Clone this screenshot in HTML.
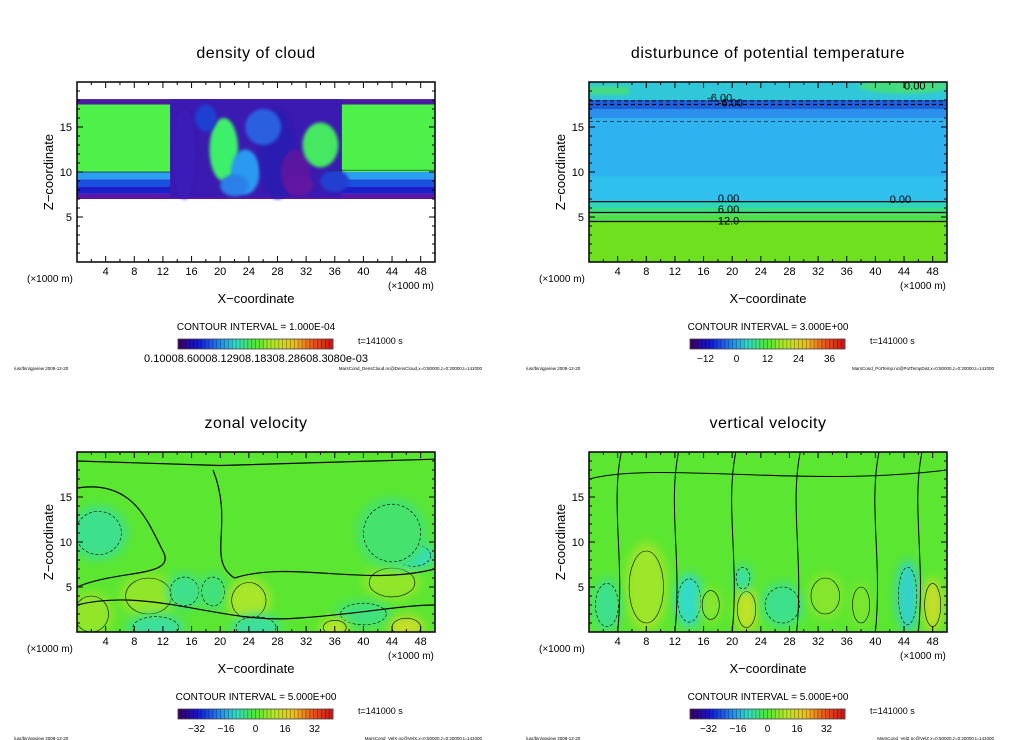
<!DOCTYPE html>
<html><head><meta charset="utf-8"><style>
body{margin:0;background:#fff;width:1024px;height:740px;overflow:hidden}
svg{display:block}
text{font-family:"Liberation Sans",sans-serif;fill:#000}
</style></head><body>
<svg id="fig" width="1024" height="740" xmlns="http://www.w3.org/2000/svg">
<defs>
<filter id="blur4" x="-50%" y="-50%" width="200%" height="200%"><feGaussianBlur stdDeviation="5"/></filter>
<filter id="blur2" x="-50%" y="-50%" width="200%" height="200%"><feGaussianBlur stdDeviation="1.5"/></filter>
</defs>
</svg>
<script>
// ---- shared axis data ----
const xTicks = [4, 8, 12, 16, 20, 24, 28, 32, 36, 40, 44, 48];
const zTicks = [5, 10, 15];
const titles = ["density of cloud", "disturbunce of potential temperature", "zonal velocity", "vertical velocity"];
const intervals = ["1.000E-04", "3.000E+00", "5.000E+00", "5.000E+00"];
const cbLabels0 = ["0.10008.60008.12908.18308.28608.3080e-03"];
const cbLabels1 = ["-12", "0", "12", "24", "36"];
const cbValues1 = [-12, 0, 12, 24, 36];
const cbLabels2 = ["-32", "-16", "0", "16", "32"];
const cbValues2 = [-32, -16, 0, 16, 32];
const footRight = ["MarsCond_DensCloud.nc@DensCloud,x=0:50000,z=0:20000,t=141000",
  "MarsCond_PotTemp.nc@PotTempDist,x=0:50000,z=0:20000,t=141000",
  "MarsCond_VelX.nc@VelX,x=0:50000,z=0:20000,t=141000",
  "MarsCond_VelZ.nc@VelZ,x=0:50000,z=0:20000,t=141000"];
// cloud density layers [zBottom, zTop, colour]
const cloudLayers = [[7.0, 7.6, "#5a16a8"], [7.6, 8.4, "#1a20c8"], [8.4, 9.2, "#1a50e0"], [9.2, 10.0, "#2aa0f0"], [10.0, 17.5, "#4ef04a"], [17.5, 18.1, "#4a1aa0"]];
// cloud gap region blobs [x, z, rx, rz, colour]
const cloudBlobs = [[15, 12, 1.5, 5, "#3a1ab8"], [20.5, 12.5, 2.0, 3.5, "#3ef06a"], [23.5, 10, 2.0, 2.5, "#2a9af0"], [28, 12, 2.5, 5, "#2a1ab0"],
  [30.5, 10, 2, 2.5, "#5a18a0"], [34, 13, 2.5, 2.5, "#44e860"], [26, 15, 2.5, 2, "#2a60e0"], [18, 16, 1.5, 1.5, "#1a40d0"], [31, 8.5, 2, 1.2, "#6018a0"], [22, 8.5, 2, 1.2, "#2a80e8"], [36, 9, 2, 1.2, "#2040d0"]];
// potential temperature layers [zBottom, zTop, colour]
const thetaLayers = [[0, 4.5, "#6ee01e"], [4.5, 5.3, "#4ede4a"], [5.3, 6.0, "#40dc80"], [6.0, 6.7, "#30d4b8"], [6.7, 9.5, "#30c0ee"], [9.5, 16, "#2eb2f0"], [16, 17.0, "#2a90ec"], [17.0, 18.0, "#1e60dc"], [18.0, 20, "#30c8d8"]];
// velocity blobs [x, z, rx, rz, value]
const uBlobs = [[3, 11, 4, 3, -6], [10, 4, 4, 2.5, 6], [15, 4.5, 2.5, 2, -6], [19, 4.5, 2, 2, -5], [24, 3.5, 3, 2.5, 8], [2, 2, 3, 2.5, 6],
  [11, 0.5, 4, 1.5, -7], [25, 0.5, 3.5, 1.5, -7], [44, 5.5, 4, 2, 6], [47, 8.5, 3, 1.5, -10], [40, 2, 4, 1.5, -5], [36, 0.5, 2, 1, 10], [46, 0.5, 2.5, 1.3, 12], [44, 11, 5, 4, -4]];
const wBlobs = [[8, 5, 3, 5, 7], [14, 3.5, 2, 3, -10], [22, 2.5, 1.6, 2.5, 11], [21.5, 6, 1.2, 1.5, -8], [27, 3, 3, 2.5, -6], [2.5, 3, 2, 3, -6],
  [44.5, 4, 1.6, 4, -11], [48, 3, 1.4, 3, 12], [33, 4, 2.5, 2.5, 5], [17, 3, 1.5, 2, 5], [38, 3, 1.5, 2.5, 4]];

const NS = "http://www.w3.org/2000/svg";
const fig = document.getElementById("fig");
function mk(tag, attrs, parent) {
  const e = document.createElementNS(NS, tag);
  for (const k in attrs) e.setAttribute(k, attrs[k]);
  (parent || fig).appendChild(e);
  return e;
}
const cmStops = [[-40, [60, 0, 90]], [-30, [20, 20, 200]], [-20, [30, 120, 240]], [-10, [50, 220, 200]], [0, [80, 230, 50]], [10, [190, 230, 40]], [20, [240, 190, 30]], [30, [230, 80, 30]], [40, [200, 20, 20]]];
function cmap(v) {
  if (v <= -40) v = -40;
  if (v >= 40) v = 40;
  for (let i = 0; i < cmStops.length - 1; i++) {
    const a = cmStops[i], b = cmStops[i + 1];
    if (v >= a[0] && v <= b[0]) {
      const t = (v - a[0]) / (b[0] - a[0]);
      const c = a[1].map((x, j) => Math.round(x + (b[1][j] - x) * t));
      return "rgb(" + c.join(",") + ")";
    }
  }
  return "#000";
}

const panels = [[0, 0], [512, 0], [0, 370], [512, 370]];
panels.forEach((p, pi) => {
  const ox = p[0], oy = p[1];
  const X0 = ox + 77, X1 = ox + 435, Y0 = oy + 262, Y1 = oy + 82;
  const sx = x => X0 + (x / 50) * (X1 - X0);
  const sz = z => Y0 - (z / 20) * (Y0 - Y1);
  const g = mk("g", {});
  
  
  const cid = "clip" + pi;
  const cp = mk("clipPath", { id: cid }, g);
  mk("rect", { x: X0, y: Y1, width: X1 - X0, height: Y0 - Y1 }, cp);
  const field = mk("g", { "clip-path": "url(#" + cid + ")" }, g);
  
  

  if (pi === 0) {
    cloudLayers.forEach(l => {
      const r = mk("rect", { x: X0, y: sz(l[1]), width: X1 - X0, height: sz(l[0]) - sz(l[1]), fill: l[2] }, field);
      
      
    });
    const gap = mk("rect", { x: sx(13), y: sz(18.1), width: sx(37) - sx(13), height: sz(7.2) - sz(18.1), fill: "#3a1ab0" }, field);
    
    
    cloudBlobs.forEach(b => {
      const e = mk("ellipse", { cx: sx(b[0]), cy: sz(b[1]), rx: sx(b[2]) - X0, ry: sz(0) - sz(b[3]), fill: b[4], filter: "url(#blur2)" }, field);
      
      
    });
    mk("line", { x1: X0, x2: sx(13), y1: sz(10), y2: sz(10), stroke: "#224", "stroke-width": 0.7 }, field);
    mk("line", { x1: sx(35), x2: X1, y1: sz(10.2), y2: sz(10.2), stroke: "#224", "stroke-width": 0.7 }, field);
  } else if (pi === 1) {
    thetaLayers.forEach(l => {
      const r = mk("rect", { x: X0, y: sz(l[1]), width: X1 - X0, height: sz(l[0]) - sz(l[1]), fill: l[2] }, field);
      
      
    });
    mk("ellipse", { cx: sx(44), cy: sz(19.5), rx: 45, ry: 7, fill: "#44dc80", filter: "url(#blur2)" }, field);
    mk("rect", { x: X0, y: sz(19.5), width: 40, height: 8, fill: "#44dc80", filter: "url(#blur2)" }, field);
    [4.5, 5.5, 6.7].forEach(c => mk("line", { x1: X0, x2: X1, y1: sz(c), y2: sz(c), stroke: "#000", "stroke-width": 1.2 }, field));
    [[17.5, 1.2], [17.9, 1], [15.6, 0.6]].forEach(c => mk("line", { x1: X0, x2: X1, y1: sz(c[0]), y2: sz(c[0]), stroke: "#000", "stroke-width": c[1], "stroke-dasharray": "4,3" }, field));
    [["0.00", 18, 7.1], ["6.00", 18, 5.9], ["12.0", 18, 4.6], ["0.00", 42, 7.0], ["-6.00", 16.5, 18.3], ["-6.00", 18, 17.7], ["0.00", 44, 19.6]].forEach(t => {
      const tx = mk("text", { x: sx(t[1]), y: sz(t[2]) + 4, "font-size": 11 }, field);
      tx.textContent = t[0];
      
      
    });
  } else {
    const blobs = pi === 2 ? uBlobs : wBlobs;
    mk("rect", { x: X0, y: Y1, width: X1 - X0, height: Y0 - Y1, fill: cmap(1) }, field);
    blobs.forEach(b => {
      const e = mk("ellipse", { cx: sx(b[0]), cy: sz(b[1]), rx: sx(b[2]) - X0, ry: sz(0) - sz(b[3]), fill: cmap(b[4]), filter: "url(#blur4)" }, field);
      
      
      mk("ellipse", { cx: sx(b[0]), cy: sz(b[1]), rx: (sx(b[2]) - X0) * 0.8, ry: (sz(0) - sz(b[3])) * 0.8, fill: "none", stroke: "#000", "stroke-width": 0.6, "stroke-dasharray": b[4] < 0 ? "3,2" : "none" }, field);
    });
    if (pi === 2) {
      mk("path", { d: `M${X0} ${sz(19)} L${sx(20)} ${sz(18.5)} L${X1} ${sz(19.2)}`, fill: "none", stroke: "#000", "stroke-width": 1.2 }, field);
      mk("path", { d: `M${X0} ${sz(16)} C${sx(8)} ${sz(17)} ${sx(10)} ${sz(12)} ${sx(12)} ${sz(9)} S${sx(6)} ${sz(7)} ${X0} ${sz(5)}`, fill: "none", stroke: "#000", "stroke-width": 1.2 }, field);
      mk("path", { d: `M${sx(19)} ${sz(18)} C${sx(22)} ${sz(12)} ${sx(18)} ${sz(8)} ${sx(22)} ${sz(6)}`, fill: "none", stroke: "#000", "stroke-width": 1.2 }, field);
      mk("path", { d: `M${X0} ${sz(3)} C${sx(10)} ${sz(5)} ${sx(20)} ${sz(1)} ${sx(30)} ${sz(1.5)} S${sx(45)} ${sz(3)} ${X1} ${sz(3)}`, fill: "none", stroke: "#000", "stroke-width": 1.2 }, field);
      mk("path", { d: `M${sx(22)} ${sz(6)} C${sx(30)} ${sz(8)} ${sx(40)} ${sz(5)} ${X1} ${sz(7)}`, fill: "none", stroke: "#000", "stroke-width": 1.2 }, field);
    } else {
      [4, 12, 20, 29, 40, 46].forEach(x => mk("path", { d: `M${sx(x)} ${Y0} C${sx(x + 1)} ${sz(8)} ${sx(x - 1)} ${sz(14)} ${sx(x + 0.5)} ${Y1}`, fill: "none", stroke: "#000", "stroke-width": 1 }, field));
      mk("path", { d: `M${X0} ${sz(17)} C${sx(10)} ${sz(19)} ${sx(30)} ${sz(16)} ${X1} ${sz(18)}`, fill: "none", stroke: "#000", "stroke-width": 1 }, field);
    }
  }
  const fr = mk("rect", { x: X0, y: Y1, width: X1 - X0, height: Y0 - Y1, fill: "none", stroke: "#000", "stroke-width": 1.5 }, g);
  
  
  for (let x = 2; x < 50; x += 2) {
    const L = x % 4 === 0 ? 6 : 3;
    mk("line", { x1: sx(x), x2: sx(x), y1: Y0, y2: Y0 - L, stroke: "#000", "stroke-width": 1 }, g);
    mk("line", { x1: sx(x), x2: sx(x), y1: Y1, y2: Y1 + L, stroke: "#000", "stroke-width": 1 }, g);
  }
  for (let z = 1; z < 20; z++) {
    const L = z % 5 === 0 ? 6 : 3;
    mk("line", { x1: X0, x2: X0 + L, y1: sz(z), y2: sz(z), stroke: "#000", "stroke-width": 1 }, g);
    mk("line", { x1: X1, x2: X1 - L, y1: sz(z), y2: sz(z), stroke: "#000", "stroke-width": 1 }, g);
  }
  xTicks.forEach(x => {
    const t = mk("text", { x: sx(x), y: oy + 275, "font-size": 11, "text-anchor": "middle" }, g);
    t.textContent = x;
    
    
  });
  zTicks.forEach(z => {
    const t = mk("text", { x: X0 - 5, y: sz(z) + 4, "font-size": 11, "text-anchor": "end" }, g);
    t.textContent = z;
    
    
  });
  function txt(s, x, y, fs, anchor, name, extra) {
    const t = mk("text", Object.assign({ x: x, y: y, "font-size": fs, "text-anchor": anchor }, extra || {}), g);
    t.textContent = s;
    
    
    return t;
  }
  txt(titles[pi], ox + 256, oy + 58, 16, "middle", "chart-title", { "letter-spacing": "0.5" });
  txt("Z\u2212coordinate", ox + 53, oy + 172, 13, "middle", "y-axis-title", { transform: `rotate(-90 ${ox + 53} ${oy + 172})` });
  txt("X\u2212coordinate", ox + 256, oy + 303, 13, "middle", "x-axis-title");
  txt("(\u00d71000 m)", ox + 27, oy + 282, 10, "start", "x-unit-left");
  txt("(\u00d71000 m)", ox + 388, oy + 289, 10, "start", "x-unit-right");
  txt("CONTOUR INTERVAL = " + intervals[pi], ox + 256, oy + 330, 10, "middle", "contour-interval");
  txt("t=141000 s", ox + 358, oy + 344, 9, "start", "time-label", { fill: "#777" });
  txt("/usr/bin/gpview   2008-12-20", ox + 14, oy + 370, 4.5, "start", "footer-left", { "xml:space": "preserve" });
  txt(footRight[pi], ox + 482, oy + 370, 4.5, "end", "footer-right");
  const cb = mk("g", {}, g);
  
  
  const cbX0 = ox + 178, cbX1 = ox + 333, n = 40;
  for (let i = 0; i < n; i++) {
    const v = -40 + 80 * (i + 0.5) / n;
    mk("rect", { x: cbX0 + (cbX1 - cbX0) * i / n, y: oy + 339, width: (cbX1 - cbX0) / n + 0.3, height: 10, fill: cmap(v) }, cb);
    mk("line", { x1: cbX0 + (cbX1 - cbX0) * i / n, x2: cbX0 + (cbX1 - cbX0) * i / n, y1: oy + 339, y2: oy + 349, stroke: "rgba(0,0,0,0.35)", "stroke-width": 0.8 }, cb);
  }
  mk("rect", { x: cbX0, y: oy + 339, width: cbX1 - cbX0, height: 10, fill: "none", stroke: "#444", "stroke-width": 0.8 }, cb);
  if (pi === 0) {
    txt(cbLabels0[0], ox + 256, oy + 362, 11, "middle", "colorbar-label");
  } else {
    const labs = pi === 1 ? cbLabels1 : cbLabels2;
    const vals = pi === 1 ? cbValues1 : cbValues2;
    const lo = pi === 1 ? -18 : -42, hi = 42;
    labs.forEach((s, i) => txt(s.replace("-", "\u2212"), cbX0 + (vals[i] - lo) / (hi - lo) * (cbX1 - cbX0), oy + 362, 10, "middle", "colorbar-label"));
  }
});
</script>
</body></html>
